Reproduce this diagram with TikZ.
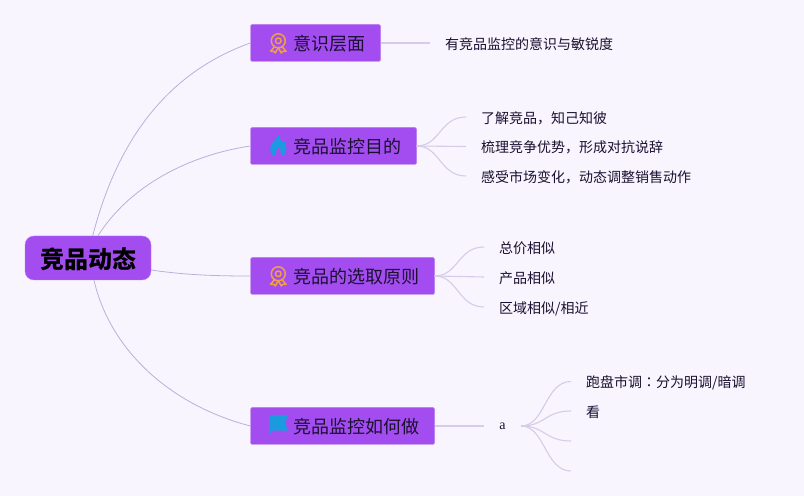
\documentclass[tikz,border=0pt]{standalone}
\usepackage{fontspec}
\setmainfont{Noto Sans CJK SC}
\newfontfamily\latinserif{Liberation Serif}
\newfontfamily\cjktc{Noto Sans CJK TC}
\usetikzlibrary{arrows.meta}
\definecolor{pagebg}{HTML}{F8F5FE}
\definecolor{boxfill}{HTML}{A34DF0}
\definecolor{boxline}{HTML}{B57AF0}
\definecolor{darkink}{HTML}{1A1030}
\definecolor{rootedge}{HTML}{BBB0DA}
\definecolor{leafedge}{HTML}{D6CCE8}
\definecolor{medalorange}{HTML}{F0A040}
\definecolor{iconblue}{HTML}{1C9AE0}
\newcommand{\iconpad}{\hspace*{27bp}}
\newcommand{\widecomma}{\char"FF0C\relax}
\newcommand{\widecolon}{{\cjktc\char"FF1A\relax}}
\tikzset{
  box_root/.style={fill=boxfill,draw=boxline,rounded corners=9bp,minimum width=126bp,minimum height=44bp,inner sep=0pt,font=\fontsize{24bp}{28bp}\bfseries\selectfont,text=black,text height=24bp,text depth=3bp},
  box_topic/.style={fill=boxfill,draw=boxline,rounded corners=1.5bp,minimum height=37bp,inner sep=0pt,font=\fontsize{18bp}{21bp}\selectfont,text=darkink,text height=18bp,text depth=2.5bp},
  leaf/.style={anchor=west,inner xsep=15bp,inner ysep=0pt,font=\fontsize{14bp}{17bp}\selectfont,text=darkink,text height=14.5bp,text depth=2bp},
  edge_root/.style={draw=rootedge,line width=0.8bp},
  edge_leaf/.style={draw=leafedge,line width=1.1bp},
  medal/.pic={
    \draw [medalorange,line width=1.5bp] (0,2.2bp) circle (7bp);
    \draw [medalorange,line width=1.4bp] (0,2.2bp) circle (2.8bp);
    \draw [medalorange,line width=1.5bp,line join=round] (-4bp,-4bp) -- (-7.8bp,-8.3bp) -- (-4.5bp,-8.3bp) -- (-3bp,-10bp) -- (-0.5bp,-5.5bp) -- (0.5bp,-5.5bp) -- (3bp,-10bp) -- (4.5bp,-8.3bp) -- (7.8bp,-8.3bp) -- (4bp,-4bp);
  },
  flame/.pic={
    \fill [iconblue] (0,11bp) ..controls (1.5bp,7bp) and (3bp,5.5bp)  .. (4.5bp,3.5bp) ..controls (5bp,4bp) and (5.5bp,4.5bp)  .. (6bp,5bp) ..controls (8.5bp,1bp) and (9.5bp,-6bp)  .. (5bp,-10bp) -- (3bp,-10bp) ..controls (4bp,-6bp) and (2bp,-4bp)  .. (0,-1.5bp) ..controls (-2bp,-4bp) and (-4bp,-6bp)  .. (-3bp,-10bp) -- (-5bp,-10bp) ..controls (-9.5bp,-6bp) and (-8.5bp,0bp)  .. (-6bp,3bp) ..controls (-4bp,5.5bp) and (-1.5bp,7bp)  .. (0,11bp) -- cycle;
  },
  flag/.pic={
    \fill [iconblue] (-8.5bp,10bp) -- (10.5bp,10bp) -- (7bp,2.2bp) -- (10.5bp,-5.6bp) -- (-6.5bp,-5.6bp) -- (-6.5bp,-9bp) -- (-8.5bp,-9bp) -- cycle;
  },
}

\begin{document}
\begin{tikzpicture}[>=latex,line join=bevel,]
%%
\fill [pagebg] (0bp,0bp) rectangle (804bp,496bp);
\useasboundingbox (0bp,0bp) rectangle (804bp,496bp);
%
\node (node_root) at (88bp,238bp) [box_root] {竞品动态};
  \node (node_1) at (315.5bp,453bp) [box_topic,minimum width=130bp] {\iconpad 意识层面};
  \node (node_2) at (333.5bp,350bp) [box_topic,minimum width=166bp] {\iconpad 竞品监控目的};
  \node (node_3) at (342.5bp,220bp) [box_topic,minimum width=184bp] {\iconpad 竞品的选取原则};
  \node (node_4) at (342.5bp,70bp) [box_topic,minimum width=184bp] {\iconpad 竞品监控如何做};
%
  \path (278.3bp,453bp) pic {medal};
  \path (278.3bp,350bp) pic {flame};
  \path (278.3bp,220bp) pic {medal};
  \path (278bp,71bp) pic {flag};
%
  \node (leaf_1a) at (430bp,453bp) [leaf] {有竞品监控的意识与敏锐度};
  \node (leaf_2a) at (466bp,379bp) [leaf] {了解竞品\widecomma 知己知彼};
  \node (leaf_2b) at (466bp,349.5bp) [leaf] {梳理竞争优势\widecomma 形成对抗说辞};
  \node (leaf_2c) at (466bp,320bp) [leaf] {感受市场变化\widecomma 动态调整销售动作};
  \node (leaf_3a) at (484bp,249bp) [leaf] {总价相似};
  \node (leaf_3b) at (484bp,219bp) [leaf] {产品相似};
  \node (leaf_3c) at (484bp,189bp) [leaf] {区域相似/相近};
  \node (leaf_4) at (502.5bp,70bp) [minimum width=37bp,inner sep=0pt,font=\fontsize{14bp}{16bp}\latinserif\selectfont,text=darkink,text height=8bp,text depth=0bp] {a};
  \node (leaf_4a) at (571bp,114.5bp) [leaf] {跑盘市调\widecolon 分为明调/暗调};
  \node (leaf_4b) at (571bp,85bp) [leaf] {看};
  \coordinate (leaf_4c) at (571bp,55bp);
  \coordinate (leaf_4d) at (571bp,25bp);
%
  \draw [edge_root] ([xshift=4.7bp]node_root.north) ..controls (120bp,366bp) and (175bp,426bp)  .. (node_1.west);
  \draw [edge_root] ([xshift=10bp]node_root.north) ..controls (130bp,311bp) and (190bp,341bp)  .. (node_2.west);
  \draw [edge_root] (node_root.east |- 0,226bp) ..controls (185bp,221bp) and (215bp,220bp)  .. (node_3.west);
  \draw [edge_root] ([xshift=6bp]node_root.south) ..controls (110bp,146bp) and (170bp,91bp)  .. (node_4.west);
%
  \draw [edge_leaf] (node_1.east) -- (leaf_1a.west);
  \draw [edge_leaf] (node_2.east) ..controls (440bp,350bp) and (440bp,379bp)  .. (leaf_2a.west);
  \draw [edge_leaf] (node_2.east) -- (leaf_2b.west);
  \draw [edge_leaf] (node_2.east) ..controls (440bp,350bp) and (440bp,320bp)  .. (leaf_2c.west);
  \draw [edge_leaf] (node_3.east) ..controls (458bp,220bp) and (458bp,249bp)  .. (leaf_3a.west);
  \draw [edge_leaf] (node_3.east) -- (leaf_3b.west);
  \draw [edge_leaf] (node_3.east) ..controls (458bp,220bp) and (458bp,189bp)  .. (leaf_3c.west);
  \draw [edge_leaf] (node_4.east) -- (leaf_4.west);
  \draw [edge_leaf] (leaf_4.east) ..controls (545bp,70bp) and (545bp,114.5bp)  .. (leaf_4a.west);
  \draw [edge_leaf] (leaf_4.east) ..controls (545bp,70bp) and (545bp,85bp)  .. (leaf_4b.west);
  \draw [edge_leaf] (leaf_4.east) ..controls (545bp,70bp) and (545bp,55bp)  .. (leaf_4c);
  \draw [edge_leaf] (leaf_4.east) ..controls (545bp,70bp) and (545bp,25bp)  .. (leaf_4d);
%
\end{tikzpicture}
\end{document}
